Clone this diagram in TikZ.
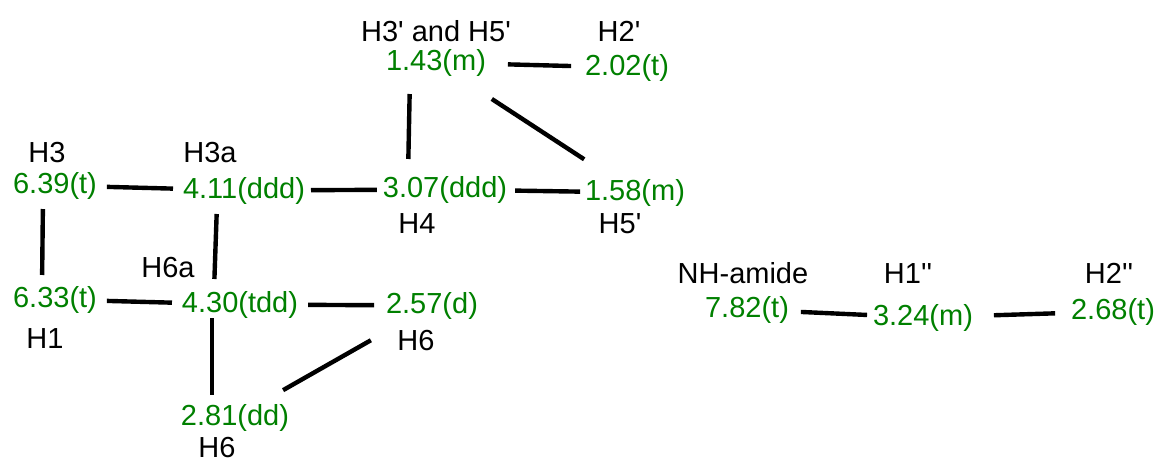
\documentclass[tikz,border=0pt]{standalone}
\usepackage{fontspec}
\setmainfont{Liberation Sans}
\definecolor{nmrgreen}{RGB}{0,128,0}
\newcommand{\sq}{\textquotesingle}
\begin{document}
\begin{tikzpicture}[x=1pt,y=-1pt,
  shiftval/.style={anchor=base,inner sep=0pt,outer sep=0pt,font=\fontsize{29}{33}\selectfont,text=nmrgreen},
  lab/.style={anchor=base,inner sep=0pt,outer sep=0pt,font=\fontsize{29}{33}\selectfont,text=black},
  link/.style={line width=4.4pt},
  cgap/.style 2 args={shorten <=#1pt,shorten >=#2pt}]
\useasboundingbox (0,0) rectangle (1164,461);
% chemical shifts
\node[shiftval] (n639) at (55,193) {6.39(t)};
\node[shiftval] (n411) at (244,198) {4.11(ddd)};
\node[shiftval] (n633) at (55,307) {6.33(t)};
\node[shiftval] (n430) at (240,312) {4.30(tdd)};
\node[shiftval] (n281) at (235,425) {2.81(dd)};
\node[shiftval] (n257) at (432,313) {2.57(d)};
\node[shiftval] (n143) at (436,70) {1.43(m)};
\node[shiftval] (n202) at (627,75) {2.02(t)};
\node[shiftval] (n307) at (445,197) {3.07(ddd)};
\node[shiftval] (n158) at (635,200) {1.58(m)};
\node[shiftval] (n782) at (747,317) {7.82(t)};
\node[shiftval] (n324) at (923,325) {3.24(m)};
\node[shiftval] (n268) at (1113,319) {2.68(t)};
% labels
\node[lab] (lH3) at (47,162) {H3};
\node[lab] (lH3a) at (210,162) {H3a};
\node[lab] (lH6a) at (168,277) {H6a};
\node[lab] (lH1) at (45,348) {H1};
\node[lab] (lH6b) at (217,457) {H6};
\node[lab] (lH6r) at (416,350) {H6};
\node[lab] (lH35) at (436,41) {H3\sq{} and H5\sq};
\node[lab] (lH2p) at (619,41) {H2\sq};
\node[lab] (lH4) at (417,233) {H4};
\node[lab] (lH5p) at (620,233) {H5\sq};
\node[lab] (lNH) at (743,283) {NH-amide};
\node[lab] (lH1pp) at (908,283) {H1\sq\sq};
\node[lab] (lH2pp) at (1109,283) {H2\sq\sq};
% couplings
\draw[link,cgap={10}{10}] (n639) -- (n411);
\draw[link,cgap={10}{11}] ([xshift=-12pt]n639.south) -- ([xshift=-13pt]n633.north);
\draw[link,cgap={6}{6}] (n411) -- (n307);
\draw[link,cgap={10}{12}] ([xshift=-27pt]n411.south) -- ([xshift=-26pt]n430.north);
\draw[link,cgap={10}{10}] (n633) -- (n430);
\draw[link,cgap={10}{12}] (n430) -- (n257);
\draw[link,cgap={0}{9}] ([xshift=-28pt]n430.south) -- ([xshift=-23pt]n281.north);
\draw[link,cgap={28}{43}] (n281) -- (n257);
\draw[link,cgap={22}{14}] (n143) -- (n202);
\draw[link,cgap={18}{17}] ([xshift=-26pt]n143.south) -- ([xshift=-37pt]n307.north);
\draw[link,cgap={42}{36}] (n143) -- (n158);
\draw[link,cgap={8}{5}] (n307) -- (n158);
\draw[link,cgap={12}{6}] (n782) -- (n324);
\draw[link,cgap={21}{16}] (n324) -- (n268);
\end{tikzpicture}
\end{document}
